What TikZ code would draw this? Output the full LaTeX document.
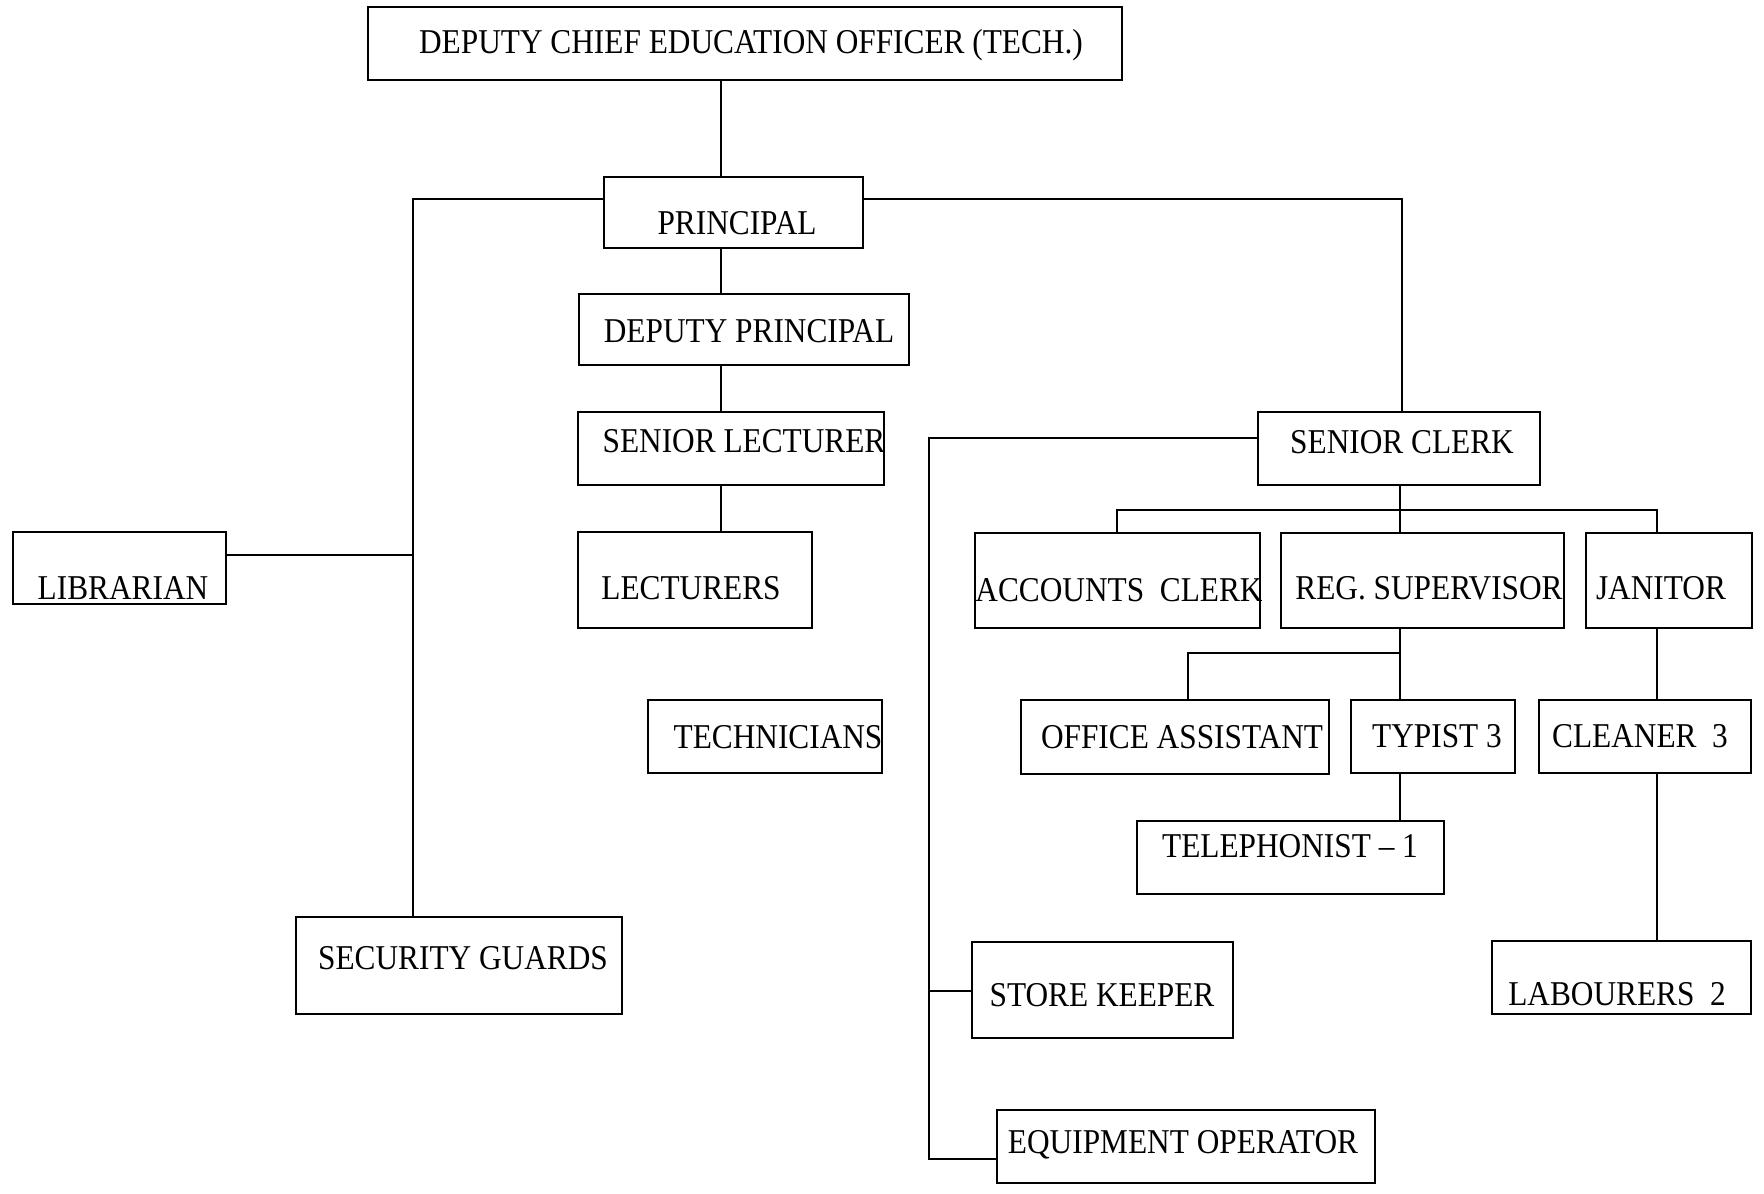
\documentclass[tikz,border=0pt]{standalone}
\usepackage{fontspec}
\setmainfont{Liberation Serif}[FakeStretch=0.9]
\usetikzlibrary{fit}
\begin{document}
\begin{tikzpicture}[x=0.5pt,y=-0.5pt,
  box/.style={draw=black,line width=1.1pt,rectangle,inner sep=0pt},
  lbl/.style={anchor=base,inner sep=0pt,font=\fontsize{17.4}{20}\selectfont},
  link/.style={draw=black,line width=0.85pt}]
\useasboundingbox[fill=white] (0,0) rectangle (1764,1193);

% ---- boxes ----
\node[box,fit={(368,7)(1122,80)}]      (dceo) {};
\node[box,fit={(604,177)(863,248)}]    (principal) {};
\node[box,fit={(579,294)(909,365)}]    (dprincipal) {};
\node[box,fit={(578,412)(884,485)}]    (slecturer) {};
\node[box,fit={(578,532)(812,628)}]    (lecturers) {};
\node[box,fit={(648,700)(882,773)}]    (technicians) {};
\node[box,fit={(13,532)(226,604)}]     (librarian) {};
\node[box,fit={(296,917)(622,1014)}]   (security) {};
\node[box,fit={(1258,412)(1540,485)}]  (sclerk) {};
\node[box,fit={(975,533)(1260,628)}]   (accounts) {};
\node[box,fit={(1281,533)(1564,628)}]  (regsup) {};
\node[box,fit={(1586,533)(1752,628)}]  (janitor) {};
\node[box,fit={(1021,700)(1329,774)}]  (office) {};
\node[box,fit={(1351,700)(1515,773)}]  (typist) {};
\node[box,fit={(1539,700)(1751,773)}]  (cleaner) {};
\node[box,fit={(1137,821)(1444,894)}]  (telephonist) {};
\node[box,fit={(972,942)(1233,1038)}]  (storekeeper) {};
\node[box,fit={(1492,941)(1751,1014)}] (labourers) {};
\node[box,fit={(997,1110)(1375,1183)}] (equipment) {};

% ---- labels ----
\node[lbl] (t-dceo)        at (751,54)   {DEPUTY CHIEF EDUCATION OFFICER (TECH.)};
\node[lbl] (t-principal)   at (737,234)  {PRINCIPAL};
\node[lbl] (t-dprincipal)  at (749,342)  {DEPUTY PRINCIPAL};
\node[lbl] (t-slecturer)   at (744,452)  {SENIOR LECTURER};
\node[lbl] (t-lecturers)   at (691,599)  {LECTURERS};
\node[lbl] (t-technicians) at (778,748)  {TECHNICIANS};
\node[lbl] (t-librarian)   at (123,599)  {LIBRARIAN};
\node[lbl] (t-security)    at (463,969)  {SECURITY GUARDS};
\node[lbl] (t-sclerk)      at (1402,453) {SENIOR CLERK};
\node[lbl] (t-accounts)    at (1119,601) {ACCOUNTS\ \ CLERK};
\node[lbl] (t-regsup)      at (1429,599) {REG. SUPERVISOR};
\node[lbl] (t-janitor)     at (1661,599) {JANITOR};
\node[lbl] (t-office)      at (1182,748) {OFFICE ASSISTANT};
\node[lbl] (t-typist)      at (1437,747) {TYPIST 3};
\node[lbl] (t-cleaner)     at (1640,747) {CLEANER\ \ 3};
\node[lbl] (t-telephonist) at (1290,857) {TELEPHONIST -- 1};
\node[lbl] (t-storekeeper) at (1102,1006){STORE KEEPER};
\node[lbl] (t-labourers)   at (1617,1005){LABOURERS\ \ 2};
\node[lbl] (t-equipment)   at (1183,1153){EQUIPMENT OPERATOR};

% ---- junction points ----
\coordinate (spine)    at (721,0);
\coordinate (leftbus)  at (413,199);
\coordinate (libj)     at (413,555);
\coordinate (rightbus) at (1402,199);
\coordinate (clerkbus) at (929,438);
\coordinate (skj)      at (929,991);
\coordinate (eqj)      at (929,1159);
\coordinate (sctop)    at (1400,510);
\coordinate (barL)     at (1117,510);
\coordinate (barR)     at (1657,510);
\coordinate (rsj)      at (1400,653);
\coordinate (oaj)      at (1188,653);

% ---- connectors ----
% academic line
\path[link] (dceo.south -| spine) -- (principal.north -| spine);
\path[link] (principal.south -| spine) -- (dprincipal.north -| spine);
\path[link] (dprincipal.south -| spine) -- (slecturer.north -| spine);
\path[link] (slecturer.south -| spine) -- (lecturers.north -| spine);
% left branch: librarian and security
\path[link] (principal.west |- leftbus) -- (leftbus) -- (security.north -| leftbus);
\path[link] (librarian.east |- libj) -- (libj);
% right branch: administration
\path[link] (principal.east |- rightbus) -- (rightbus) -- (sclerk.north -| rightbus);
\path[link] (sclerk.west |- clerkbus) -- (clerkbus) -- (eqj) -- (equipment.west |- eqj);
\path[link] (skj) -- (storekeeper.west |- skj);
\path[link] (sclerk.south -| sctop) -- (regsup.north -| sctop);
\path[link] (accounts.north -| barL) -- (barL) -- (barR) -- (janitor.north -| barR);
\path[link] (regsup.south -| rsj) -- (typist.north -| rsj);
\path[link] (rsj) -- (oaj) -- (office.north -| oaj);
\path[link] (typist.south -| rsj) -- (telephonist.north -| rsj);
\path[link] (janitor.south -| barR) -- (cleaner.north -| barR);
\path[link] (cleaner.south -| barR) -- (labourers.north -| barR);
\end{tikzpicture}
\end{document}
